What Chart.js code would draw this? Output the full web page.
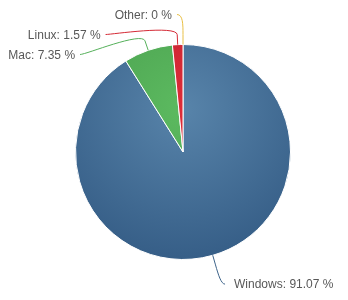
<!DOCTYPE html>
<html>
<head>
<meta charset="utf-8">
<script src="https://cdn.jsdelivr.net/npm/chart.js@4/dist/chart.umd.min.js"></script>
<style>
  html, body { margin: 0; padding: 0; background: #fff; }
  #wrap { width: 348px; height: 300px; }
</style>
</head>
<body>
<div id="wrap"><canvas id="myChart" width="348" height="300"></canvas></div>
<script>
    const labels = ['Windows', 'Mac', 'Linux', 'Other'];
    const shares = [91.07, 7.35, 1.57, 0];

    // base colour, light centre, dark edge
    const lineColors = ['#3d6389', '#55b05a', '#d42a35', '#e8bf45'];
    const lightColors = ['#5884aa', '#5cba60', '#de2c38', '#f2cc55'];
    const darkColors = ['#365e87', '#489c4c', '#bd2330', '#d9ae35'];

    function sliceFill(c) {
        const area = c.chart.chartArea;
        const i = c.dataIndex;
        if (!area) return lineColors[i];
        const h = area.bottom - area.top;
        const cx = (area.left + area.right) / 2;
        const g = c.chart.ctx.createRadialGradient(cx, area.top + 0.3 * h, 0, cx, area.top + 0.3 * h, 0.7 * h);
        g.addColorStop(0, lightColors[i]);
        g.addColorStop(1, darkColors[i]);
        return g;
    }

    // highcharts-like outside labels with soft connectors
    const outsideLabels = {
        id: 'outsideLabels',
        afterDraw(chart) {
            const meta = chart.getDatasetMeta(0);
            const ctx = chart.ctx;
            const dist = 30;
            const items = meta.data.map(function (arc, i) {
                const mid = (arc.startAngle + arc.endAngle) / 2;
                const R = arc.outerRadius;
                return {
                    i: i, arc: arc, mid: mid, R: R,
                    left: Math.cos(mid) < 1e-9 && (mid > Math.PI / 2),
                    y: arc.y + Math.sin(mid) * (R + dist)
                };
            });
            [true, false].forEach(function (side) {
                const group = items.filter(function (it) { return it.left === side; })
                    .sort(function (a, b) { return a.y - b.y; });
                for (let k = 1; k < group.length; k++) {
                    if (group[k].y < group[k - 1].y + 20) group[k].y = group[k - 1].y + 20;
                }
            });
            ctx.save();
            ctx.font = '12px "Liberation Sans", Arial, sans-serif';
            ctx.textBaseline = 'middle';
            items.forEach(function (it) {
                const a = it.arc;
                const RR = it.R + dist;
                const dy = Math.min(Math.abs(it.y - a.y), RR);
                const dx = Math.sqrt(RR * RR - dy * dy);
                const x = it.left ? a.x - dx : a.x + dx;
                const ex = a.x + Math.cos(it.mid) * it.R;
                const ey = a.y + Math.sin(it.mid) * it.R;
                const bx = a.x + Math.cos(it.mid) * (it.R + 10);
                const by = a.y + Math.sin(it.mid) * (it.R + 10);
                const sx = it.left ? x - 6 : x + 4;
                ctx.beginPath();
                ctx.moveTo(sx, it.y);
                ctx.bezierCurveTo(x, it.y, 2 * bx - ex, 2 * by - ey, bx, by);
                ctx.lineTo(ex, ey);
                ctx.strokeStyle = lineColors[it.i];
                ctx.lineWidth = 1;
                ctx.stroke();
                ctx.fillStyle = '#585858';
                ctx.textAlign = it.left ? 'right' : 'left';
                ctx.fillText(labels[it.i] + ': ' + shares[it.i] + ' %', it.left ? x - 11 : x + 13, it.y + 1);
            });
            ctx.restore();
        }
    };

    const data = {
        labels: labels,
        datasets: [{
            data: shares,
            backgroundColor: sliceFill,
            borderColor: '#ffffff',
            borderWidth: 1
        }]
    };

    const config = {
        type: 'pie',
        data: data,
        options: {
            responsive: false,
            animation: false,
            layout: {
                padding: { left: 75, right: 57, top: 44, bottom: 40 }
            },
            plugins: {
                legend: { display: false },
                tooltip: { enabled: false }
            }
        },
        plugins: [outsideLabels]
    };

    const osChart = new Chart(document.getElementById('myChart').getContext('2d'), config);
</script>
</body>
</html>
